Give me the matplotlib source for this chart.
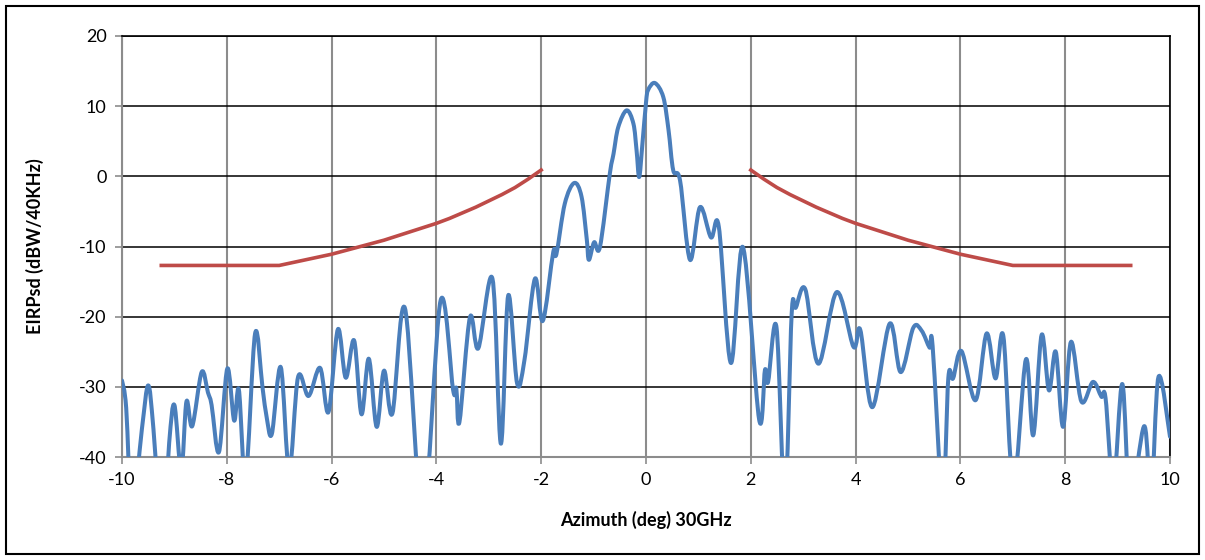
import numpy as np
import matplotlib
matplotlib.use("Agg")
import matplotlib.pyplot as plt
from matplotlib.patches import Rectangle, PathPatch
from matplotlib.path import Path

plt.rcParams['font.family'] = ['Lato', 'DejaVu Sans']
plt.rcParams['axes.unicode_minus'] = False

az = [-10.0, -9.92, -9.81, -9.62, -9.50, -9.40, -9.23, -9.10, -9.00, -8.87,
      -8.77, -8.66, -8.48, -8.36, -8.29, -8.15, -7.99, -7.86, -7.77, -7.64,
      -7.46, -7.32, -7.24, -7.14, -6.97, -6.81, -6.64, -6.44, -6.22, -6.06,
      -5.88, -5.73, -5.57, -5.43, -5.29, -5.14, -5.00, -4.84, -4.60, -4.26,
      -3.92, -3.68, -3.62, -3.56, -3.36, -3.20, -2.93, -2.77, -2.63, -2.46,
      -2.32, -2.12, -1.97, -1.77, -1.71, -1.55, -1.37, -1.23, -1.13, -1.09,
      -0.99, -0.88, -0.69, -0.62, -0.53, -0.37, -0.24, -0.18, -0.13, -0.07,
      0.00, 0.04, 0.17, 0.33, 0.43, 0.52, 0.65, 0.84, 1.03, 1.24,
      1.39, 1.62, 1.85, 2.16, 2.27, 2.33, 2.49, 2.65, 2.78, 2.86,
      3.04, 3.29, 3.64, 3.96, 4.09, 4.32, 4.65, 4.86, 5.10, 5.26,
      5.41, 5.47, 5.66, 5.77, 5.86, 6.02, 6.29, 6.50, 6.67, 6.82,
      7.01, 7.25, 7.39, 7.55, 7.69, 7.82, 7.96, 8.11, 8.31, 8.53,
      8.69, 8.77, 8.92, 9.09, 9.24, 9.51, 9.64, 9.78, 10.0]
eirp = [-29.1, -33.0, -48.0, -36.0, -29.8, -36.0, -52.0, -38.0, -32.6, -42.0,
        -32.1, -35.6, -27.9, -30.8, -32.6, -39.3, -27.4, -34.8, -30.4, -43.0,
        -22.4, -30.0, -34.3, -36.7, -27.2, -42.0, -28.6, -31.3, -27.3, -33.6,
        -21.8, -28.7, -23.4, -33.9, -26.0, -35.7, -27.7, -33.8, -18.8, -48.0,
        -17.7, -30.5, -30.2, -35.0, -20.1, -24.5, -14.6, -38.1, -17.0, -29.5,
        -26.2, -14.6, -20.6, -10.8, -11.1, -3.9, -0.95, -2.9, -9.0, -11.9,
        -9.4, -10.1, 0.4, 3.2, 7.0, 9.4, 7.5, 3.7, -0.1, 4.5,
        10.5, 12.3, 13.3, 11.3, 6.6, 0.85, -0.6, -11.9, -4.4, -8.7,
        -7.2, -26.6, -10.1, -34.7, -27.6, -29.3, -21.5, -46.0, -19.6, -18.7,
        -16.1, -26.7, -16.5, -24.3, -21.9, -32.9, -21.0, -27.9, -21.6, -22.0,
        -24.4, -24.2, -46.0, -28.7, -28.8, -24.9, -31.9, -22.4, -28.8, -22.8,
        -44.0, -26.1, -36.9, -22.6, -30.5, -25.0, -35.7, -23.6, -32.1, -29.3,
        -31.4, -31.6, -44.0, -29.6, -46.0, -35.6, -46.0, -28.6, -37.1]

# EIRP density mask (left and right branches)
mask_az_left = [-9.25, -7.0, -6.5, -6.0, -5.5, -5.0, -4.5, -4.0, -3.75, -3.5, -3.25,
                -3.0, -2.75, -2.5, -2.25, -2.0]
mask_left = [-12.7, -12.7, -11.9, -11.1, -10.1, -9.1, -7.9, -6.7, -6.0, -5.2, -4.4,
             -3.5, -2.6, -1.6, -0.4, 0.9]
mask_az_right = [2.0, 2.25, 2.5, 2.75, 3.0, 3.25, 3.5, 3.75, 4.0, 4.5, 5.0, 5.5,
                 6.0, 6.5, 7.0, 9.25]
mask_right = [0.9, -0.4, -1.6, -2.6, -3.5, -4.4, -5.2, -6.0, -6.7, -7.9, -9.1, -10.1,
              -11.1, -11.9, -12.7, -12.7]


def smooth_path(xs, ys):
    # Excel style "smoothed line": cubic bezier through the points
    p = np.column_stack([xs, ys]).astype(float)
    n = len(p)
    verts = [p[0]]
    codes = [Path.MOVETO]
    for i in range(n - 1):
        p0 = p[i - 1] if i > 0 else p[i]
        p3 = p[i + 2] if i + 2 < n else p[i + 1]
        c1 = p[i] + (p[i + 1] - p0) / 6
        c2 = p[i + 1] - (p3 - p[i]) / 6
        verts += [c1, c2, p[i + 1]]
        codes += [Path.CURVE4] * 3
    return Path(verts, codes)


fig = plt.figure(figsize=(12.05, 5.6), dpi=100)
ax = fig.add_axes([122/1205, 1-457/560, (1170-122)/1205, (457-36)/560])

ax.add_patch(PathPatch(smooth_path(az, eirp), fill=False, edgecolor='#4A7EBB',
                       lw=2.9, joinstyle='round', capstyle='round', zorder=3))
ax.plot(mask_az_left, mask_left, color='#BE4B48', lw=2.6, zorder=3)
ax.plot(mask_az_right, mask_right, color='#BE4B48', lw=2.6, zorder=3)

ax.set_xlim(-10, 10)
ax.set_ylim(-40, 20)
ax.set_xticks(range(-10, 11, 2))
ax.set_yticks(range(-40, 21, 10))

ax.yaxis.grid(True, color='black', lw=1.1)
ax.xaxis.grid(True, color='#8C8C8C', lw=1.5)
ax.set_axisbelow(True)

for s in ['left', 'bottom']:
    ax.spines[s].set_color('#8C8C8C')
    ax.spines[s].set_linewidth(1.5)
for s in ['top', 'right']:
    ax.spines[s].set_color('black')
    ax.spines[s].set_linewidth(1.2)

ax.tick_params(axis='both', direction='out', length=5, color='#8C8C8C', width=1.2,
               labelsize=13, pad=6)

ax.set_xlabel('Azimuth (deg) 30GHz', fontsize=13, fontweight='bold', labelpad=16)
ax.set_ylabel('EIRPsd (dBW/40KHz)', fontsize=13, fontweight='bold', labelpad=25)

fig.patches.append(Rectangle((6/1205, 6/560), 1193/1205, 548/560, transform=fig.transFigure,
                             fill=False, edgecolor='black', lw=1.5))

fig.savefig('out.png', dpi=100)
